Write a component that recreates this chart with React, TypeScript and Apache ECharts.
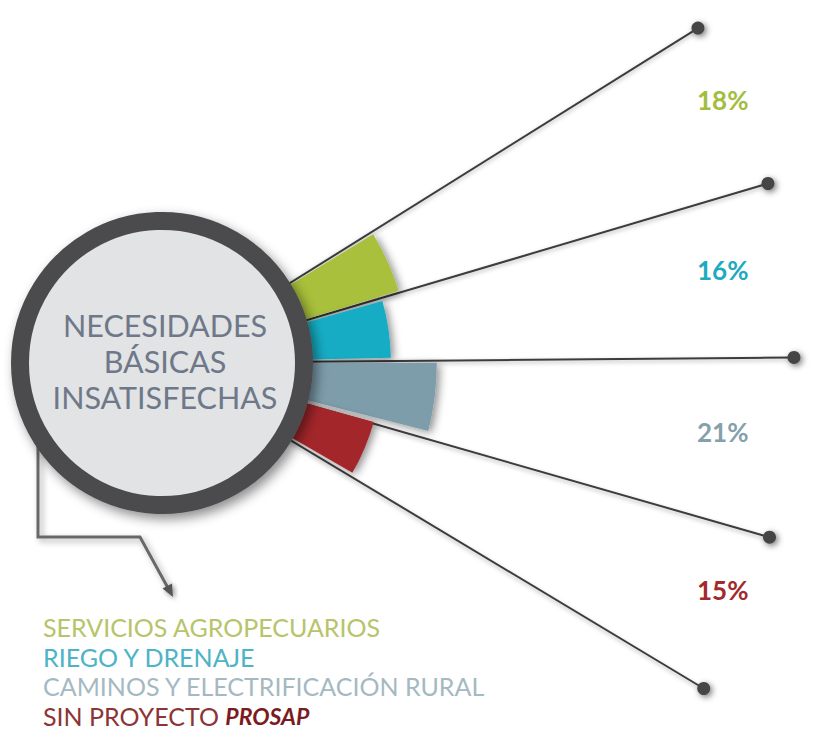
import React, { useEffect, useRef } from "react";
import * as echarts from "echarts";

// ---- data ----
const categories = [
  "SERVICIOS AGROPECUARIOS",
  "RIEGO Y DRENAJE",
  "CAMINOS Y ELECTRIFICACIÓN RURAL",
  "SIN PROYECTO PROSAP",
];
const percents = [18, 16, 21, 15];
const barColors = ["#a8c03a", "#17adc4", "#7d9dab", "#a3262c"];
const labelColors = ["#a3bd3c", "#1eaac0", "#84a0ab", "#a22a2c"];
const legendColors = ["#b7c46a", "#4db3c6", "#a5b9c2", "#8c3535"];
const spokeAngles = [32, 16.5, 0.5, -16, -31];
const centerLines = ["NECESIDADES", "BÁSICAS", "INSATISFECHAS"];
const SLOTS = 23;

const CX = 162;
const CY = 363;
const R_OUT = 632;
const R_MIN = -9;
const R_MAX = 60;

export default function App() {
  const ref = useRef<HTMLDivElement>(null);
  useEffect(() => {
    document.body.style.margin = "0";
    document.body.style.background = "#ffffff";
    const chart = echarts.init(ref.current!, null, { renderer: "svg" });

    const angleCats = categories.concat(
      Array.from({ length: SLOTS - categories.length }, (_, i) => "_" + i)
    );
    const barData: any[] = angleCats.map((_, i) =>
      i < percents.length
        ? { value: percents[i], itemStyle: { color: barColors[i] } }
        : "-"
    );

    const spokeSeries = spokeAngles.map((a) => ({
      type: "line",
      coordinateSystem: "polar",
      polarIndex: 1,
      clip: false,
      silent: true,
      data: [
        [0, (a + 360) % 360],
        [R_MAX, (a + 360) % 360],
      ],
      symbol: "circle",
      symbolSize: (_v: any, p: any) => (p.dataIndex === 1 ? 13 : 0),
      showAllSymbol: true,
      lineStyle: { color: "#3c3c3c", width: 2, shadowBlur: 4, shadowColor: "rgba(0,0,0,0.3)", shadowOffsetY: 2 },
      itemStyle: { color: "#454545", shadowBlur: 6, shadowColor: "rgba(0,0,0,0.55)", shadowOffsetX: 2, shadowOffsetY: 2 },
      z: 3,
    }));

    const legendTexts = categories.map((c, i) => {
      const base: any = {
        type: "text",
        x: 43,
        y: 627 + 29.5 * i,
        z: 100,
        style: {
          fill: legendColors[i],
          font: "25px Lato",
          verticalAlign: "middle",
          text: c,
        },
      };
      if (c.endsWith("PROSAP")) {
        base.style.text = "{a|" + c.replace("PROSAP", "") + "}{b|PROSAP}";
        base.style.rich = {
          a: { fill: legendColors[i], fontSize: 25, fontFamily: "Lato" },
          b: { fill: "#7a1c1f", fontSize: 23, fontFamily: "Lato", fontWeight: "bold", fontStyle: "italic" },
        };
      }
      return base;
    });

    const pctTexts = percents.map((p, i) => ({
      type: "text",
      x: 697,
      y: [100, 270, 432, 590][i],
      z: 100,
      style: {
        text: p + "%",
        fill: labelColors[i],
        font: "bold 26px Lato",
        verticalAlign: "middle",
      },
    }));

    chart.setOption({
      animation: false,
      backgroundColor: "#ffffff",
      polar: [
        { center: [CX, CY], radius: [0, R_OUT] },
        { center: [CX, CY], radius: [0, R_OUT] },
      ],
      angleAxis: [
        {
          polarIndex: 0,
          type: "category",
          data: angleCats,
          startAngle: 32,
          clockwise: true,
          axisLine: { show: false },
          axisTick: { show: false },
          axisLabel: { show: false },
          splitLine: { show: false },
        },
        {
          polarIndex: 1,
          type: "value",
          min: 0,
          max: 360,
          startAngle: 0,
          clockwise: false,
          axisLine: { show: false },
          axisTick: { show: false },
          axisLabel: { show: false },
          splitLine: { show: false },
        },
      ],
      radiusAxis: [
        {
          polarIndex: 0,
          type: "value",
          min: R_MIN,
          max: R_MAX,
          axisLine: { show: false },
          axisTick: { show: false },
          axisLabel: { show: false },
          splitLine: { show: false },
        },
        {
          polarIndex: 1,
          type: "value",
          min: R_MIN,
          max: R_MAX,
          axisLine: { show: false },
          axisTick: { show: false },
          axisLabel: { show: false },
          splitLine: { show: false },
        },
      ],
      series: [
        {
          type: "bar",
          coordinateSystem: "polar",
          polarIndex: 0,
          data: barData,
          barCategoryGap: "8%",
          silent: true,
          itemStyle: {
            shadowBlur: 8,
            shadowColor: "rgba(0,0,0,0.45)",
            shadowOffsetX: 3,
            shadowOffsetY: 2,
          },
          z: 4,
        },
        ...spokeSeries,
      ],
      graphic: [
        {
          type: "polyline",
          z: 1,
          shape: { points: [[38, 440], [38, 537], [140, 537], [168, 588]] },
          style: {
            stroke: "#686868",
            lineWidth: 3,
            fill: null,
            shadowBlur: 6,
            shadowColor: "rgba(0,0,0,0.35)",
            shadowOffsetX: 3,
            shadowOffsetY: 3,
          },
        },
        {
          type: "polygon",
          z: 1,
          shape: { points: [[173, 597], [162.5, 588.5], [172, 583.5]] },
          style: { fill: "#555555", shadowBlur: 5, shadowColor: "rgba(0,0,0,0.4)", shadowOffsetX: 2, shadowOffsetY: 2 },
        },
        {
          type: "circle",
          z: 90,
          shape: { cx: CX, cy: CY, r: 142 },
          style: {
            fill: "#e1e3e4",
            stroke: "#4b4c4e",
            lineWidth: 18,
            shadowBlur: 12,
            shadowColor: "rgba(0,0,0,0.45)",
            shadowOffsetX: 4,
            shadowOffsetY: 5,
          },
        },
        {
          type: "text",
          z: 95,
          x: 165,
          y: 361,
          style: {
            text: centerLines.join("\n"),
            fill: "#6e7888",
            font: "30.5px Lato",
            align: "center",
            verticalAlign: "middle",
            lineHeight: 36,
          },
        },
        ...pctTexts,
        ...legendTexts,
      ],
    });
    return () => chart.dispose();
  }, []);
  return <div ref={ref} style={{ width: 814, height: 730 }} />;
}
